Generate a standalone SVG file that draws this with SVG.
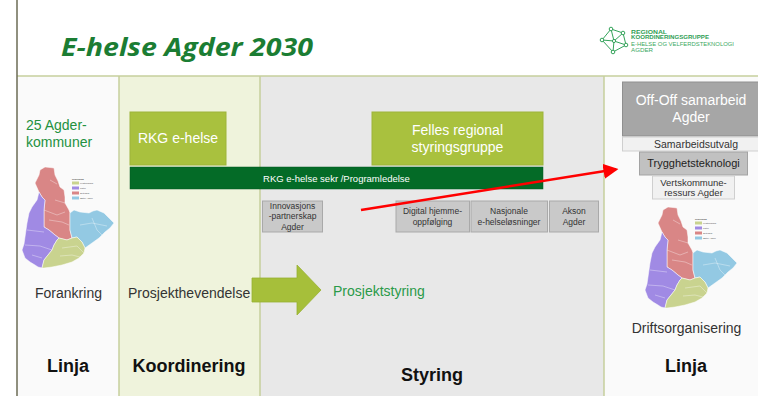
<svg xmlns="http://www.w3.org/2000/svg" width="758" height="396" viewBox="0 0 758 396">
<style>
  text { font-family: "Liberation Sans", Arial, sans-serif; }
  .title { font-family: "Open Sans", "Liberation Sans", sans-serif; font-weight: 700; font-style: italic; font-size: 25px; fill: #1b7d33; }
  .logoB { font-size: 6px; font-weight: 700; fill: #2f9e55; }
  .logoL { font-size: 6px; fill: #3aa862; }
  .green14 { font-size: 14px; fill: #23913f; }
  .dark14 { font-size: 14px; fill: #333333; }
  .head { font-size: 18px; font-weight: 700; fill: #111111; text-anchor: middle; }
  .boxG { fill: #a9c13e; stroke: #9db43a; stroke-width: 1; }
  .white14 { font-size: 14px; fill: #ffffff; text-anchor: middle; }
  .small { font-size: 8.5px; fill: #333333; text-anchor: middle; }
  .grey { fill: #c9c9c9; stroke: #a9a9a9; stroke-width: 1; }
  .pale { fill: #f1f1f1; stroke: #cfcfcf; stroke-width: 1; }
  .div { stroke: #c6cf9c; stroke-width: 1.5; }
  .mp { stroke: #ffffff; stroke-width: 0.5; stroke-linejoin: round; }
  .lg { font-size: 2.4px; fill: #555555; }
</style>
<defs>
  <marker id="redHead" markerWidth="6" markerHeight="6" refX="5" refY="3" orient="auto" markerUnits="strokeWidth">
    <path d="M0,0 L6,3 L0,6 Z" fill="#ff0000"/>
  </marker>
  <g id="agderMap">
    <polygon class="mp" fill="#d98686" points="28,10 33,7 38,7.5 42,8 43,15 46,21 48,27 52,30 53,37 53,43 57,50 58,53 58,62 58,70 60,78 55,80 47,78 43,75 37,70 32,67 32,58 32,50 33,40 30,37 27,32 23,23 25,19 27,15"/>
    <polygon class="mp" fill="#a08ae4" points="27,32 30,37 33,40 32,50 32,58 32,67 37,70 43,75 47,78 45,80 42,85 40,90 36,95 32,100 30,108 26,107 23,105 18,102 13,98 10,90 12,84 13,77 14,70 15,63 17,53 20,47 25,40"/>
    <polygon class="mp" fill="#93c9e3" points="58,53 62,50 68,52 77,53 81,51 85,50 92,53 97,58 102,63 98,68 93,72 87,78 80,83 73,88 70,82 65,77 60,78 58,70 58,62"/>
    <polygon class="mp" fill="#c9d38f" points="47,78 55,80 60,78 65,77 70,82 73,88 72,93 67,98 60,102 50,105 40,107 32,108 30,108 32,100 36,95 40,90 42,85 45,80"/>
    <path d="M32,50 L45,55 L53,52 M43,40 L53,43 M15,70 L32,72 M13,85 L28,86 L40,90 M50,88 L65,86 L72,93 M68,65 L80,63 L95,66 M48,96 L60,95 L68,97 M37,60 L50,62 L57,65 M20,95 L30,98 M80,58 L85,70 L90,75 M38,20 L45,24" stroke="#ffffff" stroke-width="0.35" fill="none"/>
    <text class="lg" x="60" y="20" font-weight="700">Regionråd</text>
    <rect x="60" y="21.5" width="7" height="3" fill="#c9d38f"/>
    <rect x="60" y="26.5" width="7" height="3" fill="#a08ae4"/>
    <rect x="60" y="31.5" width="7" height="3" fill="#d98686"/>
    <rect x="60" y="36.5" width="7" height="3" fill="#93c9e3"/>
    <text class="lg" x="68" y="24">Kristiansand</text>
    <text class="lg" x="68" y="29">Lister</text>
    <text class="lg" x="68" y="34">Setesdal</text>
    <text class="lg" x="68" y="39">Østre Agder</text>
  </g>
</defs>

<!-- background -->
<rect x="0" y="0" width="758" height="396" fill="#ffffff"/>
<g id="columns">
  <rect x="17" y="76" width="102" height="320" fill="#fafafa"/>
  <rect x="119" y="76" width="141" height="320" fill="#eff3dc"/>
  <rect x="260" y="76" width="344" height="320" fill="#e8e8e8"/>
  <rect x="604" y="76" width="154" height="320" fill="#fafafa"/>
  <line class="div" x1="17" y1="76" x2="758" y2="76"/>
  <line class="div" x1="119" y1="76" x2="119" y2="396"/>
  <line class="div" x1="260" y1="76" x2="260" y2="396"/>
  <line class="div" x1="604" y1="76" x2="604" y2="396" stroke-width="2"/>
  <line x1="17" y1="0" x2="17" y2="396" stroke="#6b6b55" stroke-width="1.5"/>
</g>

<g id="title">
  <text class="title" x="61" y="56" textLength="252" lengthAdjust="spacingAndGlyphs">E-helse Agder 2030</text>
</g>

<g id="logo">
  <g stroke="#34a35a" stroke-width="1" fill="none">
    <path d="M602,40 L611,29 L623,33 L626,45 L613,52 L602,40 Z M611,29 L614,41 L626,45 M602,40 L614,41 L613,52 M623,33 L614,41"/>
    <circle cx="602" cy="40" r="1.8" fill="#ffffff"/>
    <circle cx="611" cy="29" r="1.8" fill="#ffffff"/>
    <circle cx="623" cy="33" r="1.8" fill="#ffffff"/>
    <circle cx="626" cy="45" r="1.8" fill="#ffffff"/>
    <circle cx="613" cy="52" r="1.8" fill="#ffffff"/>
    <circle cx="614" cy="41" r="1.6" fill="#ffffff"/>
  </g>
  <text class="logoB" x="631" y="33.5" textLength="36" lengthAdjust="spacingAndGlyphs">REGIONAL</text>
  <text class="logoB" x="631" y="39" textLength="78" lengthAdjust="spacingAndGlyphs">KOORDINERINGSGRUPPE</text>
  <text class="logoL" x="631" y="45.5" textLength="103" lengthAdjust="spacingAndGlyphs">E-HELSE OG VELFERDSTEKNOLOGI</text>
  <text class="logoL" x="631" y="52" textLength="22" lengthAdjust="spacingAndGlyphs">AGDER</text>
</g>

<!-- Left Linja column -->
<g id="agderkommuner">
  <text class="green14" x="26" y="130">25 Agder-</text>
  <text class="green14" x="26" y="147">kommuner</text>
</g>
<g id="mapLeft">
  <use href="#agderMap" transform="translate(12,160)"/>
</g>
<g id="forankring">
  <text class="dark14" x="68.5" y="298" text-anchor="middle">Forankring</text>
</g>
<g id="linjaLeft">
  <text class="head" x="68" y="372">Linja</text>
</g>

<!-- Koordinering column -->
<g id="rkgEhelse">
  <rect class="boxG" x="130" y="112" width="96" height="53"/>
  <text class="white14" x="178" y="143">RKG e-helse</text>
</g>
<g id="prosjekthevendelse">
  <text class="dark14" x="128" y="298">Prosjekthevendelse</text>
</g>
<g id="koordinering">
  <text class="head" x="189" y="372">Koordinering</text>
</g>

<!-- Styring column -->
<g id="fellesStyringsgruppe">
  <rect class="boxG" x="372" y="112" width="171" height="53"/>
  <text class="white14" x="457.5" y="135">Felles regional</text>
  <text class="white14" x="457.5" y="152">styringsgruppe</text>
</g>
<g id="programledelse">
  <rect x="130" y="167" width="413" height="22" fill="#046b27" stroke="#035a20" stroke-width="0.5"/>
  <text x="336.5" y="182" font-size="9.5" fill="#ffffff" text-anchor="middle">RKG e-helse sekr /Programledelse</text>
</g>
<g id="innovasjon">
  <rect class="grey" x="262.5" y="201" width="60" height="31"/>
  <text class="small" x="292.5" y="209">Innovasjons</text>
  <text class="small" x="292.5" y="219">-partnerskap</text>
  <text class="small" x="292.5" y="229.5">Agder</text>
</g>
<g id="digitalHjemme">
  <rect class="grey" x="396" y="201" width="73.5" height="31"/>
  <text class="small" x="432.5" y="214">Digital hjemme-</text>
  <text class="small" x="432.5" y="224.5">oppfølging</text>
</g>
<g id="nasjonale">
  <rect class="grey" x="471" y="201" width="76.5" height="31"/>
  <text class="small" x="509" y="214">Nasjonale</text>
  <text class="small" x="509" y="224.5">e-helseløsninger</text>
</g>
<g id="akson">
  <rect class="grey" x="549.5" y="201" width="49" height="31"/>
  <text class="small" x="574" y="214">Akson</text>
  <text class="small" x="574" y="224.5">Agder</text>
</g>
<g id="prosjektstyring">
  <text x="333" y="296" font-size="14" fill="#2a9a48">Prosjektstyring</text>
</g>
<g id="styring">
  <text class="head" x="432" y="381">Styring</text>
</g>

<!-- Right Linja column -->
<g id="offOff">
  <rect x="622.5" y="82" width="140" height="54" fill="#a6a6a6" stroke="#8f8f8f" stroke-width="1"/>
  <text class="white14" x="691" y="105">Off-Off samarbeid</text>
  <text class="white14" x="691" y="122">Agder</text>
</g>
<g id="samarbeidsutvalg">
  <rect class="pale" x="622.5" y="137" width="140" height="14"/>
  <text x="696" y="147.5" font-size="10.5" fill="#333333" text-anchor="middle">Samarbeidsutvalg</text>
</g>
<g id="trygghetsteknologi">
  <rect x="639.5" y="152" width="108" height="23" fill="#c1c1c1" stroke="#a3a3a3" stroke-width="1"/>
  <text x="693.5" y="167" font-size="11" fill="#222222" text-anchor="middle">Trygghetsteknologi</text>
</g>
<g id="vertskommune">
  <rect class="pale" x="652.5" y="176" width="82" height="23"/>
  <text x="693.5" y="186" font-size="9.5" fill="#333333" text-anchor="middle">Vertskommune-</text>
  <text x="693.5" y="196" font-size="9.5" fill="#333333" text-anchor="middle">ressurs Agder</text>
</g>
<g id="mapRight">
  <use href="#agderMap" transform="translate(635,200)"/>
</g>
<g id="driftsorganisering">
  <text class="dark14" x="686.5" y="333" text-anchor="middle">Driftsorganisering</text>
</g>
<g id="linjaRight">
  <text class="head" x="686" y="372">Linja</text>
</g>

<!-- connectors -->
<g id="connectors">
  <path d="M252,278 L297,278 L297,265 L321,290 L297,315 L297,302 L252,302 Z" fill="#a6bf3a" stroke="#98b133" stroke-width="0.8"/>
  <line x1="361" y1="210" x2="616" y2="169.3" stroke="#ff0000" stroke-width="2.5" marker-end="url(#redHead)"/>
</g>
</svg>
